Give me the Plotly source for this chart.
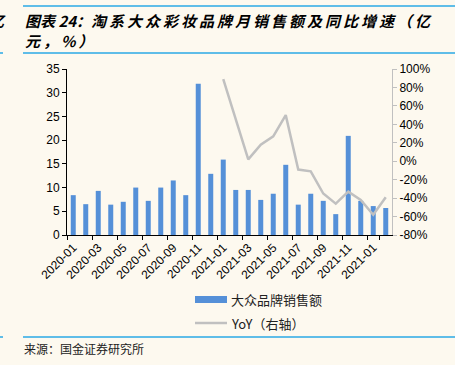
import plotly.graph_objects as go

W, H = 455, 365
L, R, T, B = 67, 392, 69, 235  # plot area in pixels

months = ["2020-01","2020-02","2020-03","2020-04","2020-05","2020-06","2020-07","2020-08",
          "2020-09","2020-10","2020-11","2020-12","2021-01","2021-02","2021-03","2021-04",
          "2021-05","2021-06","2021-07","2021-08","2021-09","2021-10","2021-11","2021-12",
          "2022-01","2022-02"]
sales = [8.4, 6.5, 9.3, 6.4, 7.0, 10.0, 7.2, 10.0, 11.5, 8.4, 31.9, 12.9,
         15.9, 9.5, 9.5, 7.4, 8.7, 14.8, 6.4, 8.7, 7.2, 4.4, 20.9, 7.2, 6.1, 5.7]
yoy = [None]*12 + [89, 46, 2, 18, 27, 50, -9, -11, -35, -46, -33, -42, -58, -39]
tick_idx = list(range(0, 26, 2))
tick_text = ["2020-01","2020-03","2020-05","2020-07","2020-09","2020-11",
             "2021-01","2021-03","2021-05","2021-07","2021-09","2021-11","2021-01"]
left_ticks = [0, 5, 10, 15, 20, 25, 30, 35]
right_ticks = [-80, -60, -40, -20, 0, 20, 40, 60, 80, 100]

BG = "#fdf9ef"
BLUE = "#5590d8"
GRAY = "#c0c0c0"
RULE = "#2aa8e6"
FONT = "Liberation Sans, Arial, Noto Sans CJK SC"
CJK = "Noto Sans CJK SC"
TS = "\u2009"  # thin space for letter spacing of the title

def px(x):
    return (x - L) / (R - L)

def py(y):
    return (B - y) / (B - T)

fig = go.Figure()
fig.add_trace(go.Bar(x=months, y=sales, marker=dict(color=BLUE, line=dict(width=0)),
                     name="大众品牌销售额", yaxis="y"))
fig.add_trace(go.Scatter(x=months, y=yoy, mode="lines", line=dict(color=GRAY, width=2.5),
                         name="YoY（右轴）", yaxis="y2", connectgaps=False))

fig.update_layout(
    width=W, height=H,
    margin=dict(l=L, r=W - R, t=T, b=H - B, pad=0, autoexpand=False),
    paper_bgcolor=BG, plot_bgcolor=BG,
    showlegend=False,
    bargap=0.6,
    font=dict(family=FONT, size=12, color="#000"),
    xaxis=dict(type="category", categoryorder="array", categoryarray=months,
               tickmode="array", tickvals=[months[i] for i in tick_idx], ticktext=tick_text,
               tickangle=-45, showline=True, linecolor="#000", linewidth=1,
               ticks="outside", ticklen=4, tickcolor="#000", tickson="boundaries",
               showgrid=False, zeroline=False, tickfont=dict(size=12)),
    yaxis=dict(range=[0, 35], tickvals=left_ticks, showline=True, linecolor="#000",
               linewidth=1, ticks="outside", ticklen=4, tickcolor="#000",
               showgrid=False, zeroline=False, tickfont=dict(size=12)),
    yaxis2=dict(range=[-80, 100], tickvals=right_ticks,
                ticktext=[f"{v}%" for v in right_ticks], overlaying="y", side="right",
                showline=True, linecolor=GRAY, linewidth=1, ticks="outside", ticklen=4,
                tickcolor=GRAY, showgrid=False, zeroline=False, tickfont=dict(size=12)),
)

shapes = []
def hline(y, x0, x1, color=RULE, width=1.5):
    shapes.append(dict(type="line", xref="paper", yref="paper", x0=px(x0), x1=px(x1),
                       y0=py(y), y1=py(y), line=dict(color=color, width=width)))

hline(6, 23, 455)
hline(53, 0, 3); hline(53, 23, 455)
hline(337, 0, 3); hline(337, 23, 455)
# legend swatches
shapes.append(dict(type="rect", xref="paper", yref="paper", x0=px(195), x1=px(227),
                   y0=py(303), y1=py(296), fillcolor=BLUE, line=dict(width=0)))
hline(323, 195, 227, color=GRAY, width=2.5)
fig.update_layout(shapes=shapes)

def ann(text, x, y, size, xanchor="left", family=CJK, color="#000", bold=False, italic=False):
    t = f"<b>{text}</b>" if bold else text
    t = f"<i>{t}</i>" if italic else t
    fig.add_annotation(text=t, xref="paper", yref="paper", x=px(x), y=py(y),
                       xanchor=xanchor, yanchor="middle", showarrow=False,
                       font=dict(family=family, size=size, color=color))

title1 = "图表 24：" + TS.join("淘系大众彩妆品牌月销售额及同比增速（亿")
title2 = TS.join("元，%）")
ann(title1, 23, 20, 15, bold=True, italic=True)
ann(title2, 23, 41, 15, bold=True, italic=True)
ann("亿", 8, 20, 15, xanchor="right", bold=True, italic=True)
ann("大众品牌销售额", 229, 299, 13, color="#222")
ann("YoY（右轴）", 229, 323, 13, color="#222")
ann("来源：国金证券研究所", 22, 348, 12, color="#222")

fig.write_html("out.html", config={"displayModeBar": False},
               post_script="document.body.style.margin='0';")
